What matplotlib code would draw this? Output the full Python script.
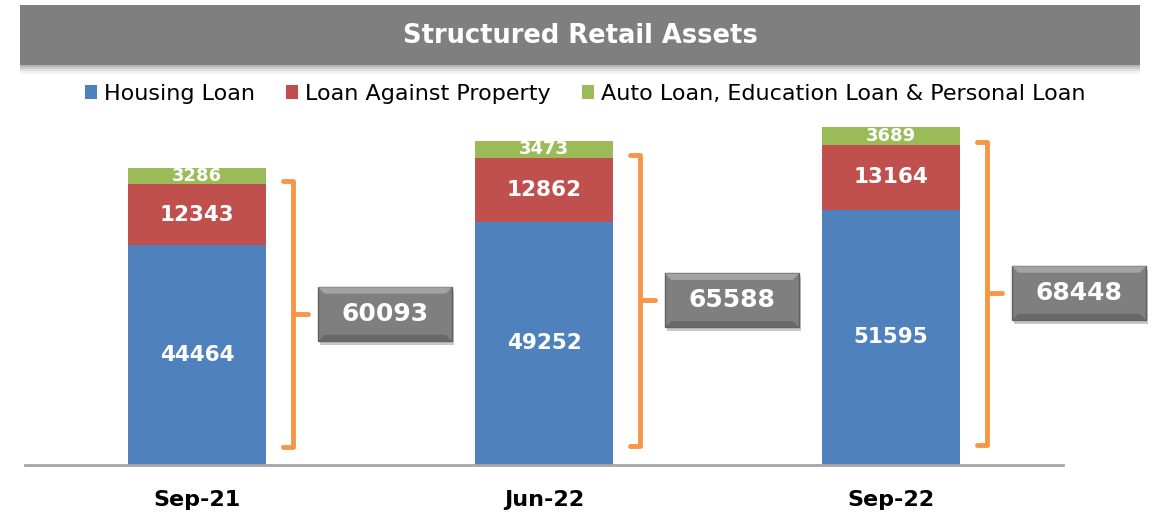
import matplotlib.pyplot as plt
from matplotlib.patches import Rectangle, Polygon
import numpy as np

# data
periods = ['Sep-21', 'Jun-22', 'Sep-22']
housing = [44464, 49252, 51595]
lap = [12343, 12862, 13164]
other = [3286, 3473, 3689]
totals = [60093, 65588, 68448]
series_names = ['Housing Loan', 'Loan Against Property',
                'Auto Loan, Education Loan & Personal Loan']

BLUE = '#4F81BD'
RED = '#C0504D'
GREEN = '#9BBB59'
ORANGE = '#F79646'
GREY = '#7F7F7F'

W, H = 1153, 523
fig = plt.figure(figsize=(W / 100, H / 100), dpi=100)

# background axes in pixel units for the banner
bg = fig.add_axes([0, 0, 1, 1])
bg.set_xlim(0, W)
bg.set_ylim(H, 0)
bg.axis('off')

# banner shadow, then banner
for k, a in enumerate([0.12, 0.09, 0.06, 0.04, 0.02]):
    bg.add_patch(Rectangle((20, 5), 1120, 62 + k * 2, color='black', alpha=a, lw=0))
bg.add_patch(Rectangle((20, 5), 1120, 60, color=GREY, lw=0))
bg.text(580, 36, 'Structured Retail Assets', color='white', fontsize=18.5,
        fontweight='bold', ha='center', va='center')

# bar axes
ax = fig.add_axes([25 / W, 58 / H, 1038 / W, 346 / H])
ax.patch.set_alpha(0)
x = np.arange(len(periods))
width = 0.398
b1 = ax.bar(x, housing, width, color=BLUE, label=series_names[0])
b2 = ax.bar(x, lap, width, bottom=housing, color=RED, label=series_names[1])
base3 = np.add(housing, lap)
b3 = ax.bar(x, other, width, bottom=base3, color=GREEN, label=series_names[2])

ax.set_xlim(-0.4957, 2.4957)
ax.set_ylim(0, 70000)
for s in ['top', 'left', 'right']:
    ax.spines[s].set_visible(False)
ax.spines['bottom'].set_color('#A6A6A6')
ax.spines['bottom'].set_linewidth(2)
ax.set_yticks([])
ax.set_xticks(x, periods)
ax.tick_params(axis='x', length=0, pad=18)
for lbl in ax.get_xticklabels():
    lbl.set_fontsize(16)
    lbl.set_fontweight('bold')

# segment labels
for i in range(len(periods)):
    ax.text(x[i], housing[i] / 2, str(housing[i]), color='white', fontsize=15.5,
            fontweight='bold', ha='center', va='center')
    ax.text(x[i], housing[i] + lap[i] / 2, str(lap[i]), color='white', fontsize=15.5,
            fontweight='bold', ha='center', va='center')
    ax.text(x[i], base3[i] + other[i] / 2, str(other[i]), color='white', fontsize=13,
            fontweight='bold', ha='center', va='center')

# braces and total boxes
for i in range(len(periods)):
    c = x[i]
    top = totals[i] * 0.955
    bot = totals[i] * 0.06
    mid = (top + bot) / 2
    hx, vx, nx = c + 0.248, c + 0.277, c + 0.32
    ax.plot([hx, vx, vx, nx], [top, top, mid, mid], color=ORANGE, lw=3.5,
            solid_joinstyle='round', solid_capstyle='round', clip_on=False)
    ax.plot([vx, vx, hx], [mid, bot, bot], color=ORANGE, lw=3.5,
            solid_joinstyle='round', solid_capstyle='round', clip_on=False)

    bx0, bw, bh = c + 0.349, 0.386, 10927
    by0 = mid - bh / 2
    ax.add_patch(Rectangle((bx0 + 0.006, by0 - 700), bw, bh, color='black',
                           alpha=0.22, lw=0, clip_on=False))
    ax.add_patch(Rectangle((bx0, by0), bw, bh, facecolor=GREY,
                           edgecolor='#606060', lw=1, clip_on=False))
    bvx, bvy = 0.018, 1300
    ax.add_patch(Polygon([(bx0, by0 + bh), (bx0 + bw, by0 + bh),
                          (bx0 + bw - bvx, by0 + bh - bvy), (bx0 + bvx, by0 + bh - bvy)],
                         closed=True, color='#A3A3A3', lw=0, clip_on=False))
    ax.add_patch(Polygon([(bx0, by0), (bx0 + bw, by0),
                          (bx0 + bw - bvx, by0 + bvy), (bx0 + bvx, by0 + bvy)],
                         closed=True, color='#686868', lw=0, clip_on=False))
    ax.text(bx0 + bw / 2, mid, str(totals[i]), color='white', fontsize=18,
            fontweight='bold', ha='center', va='center', clip_on=False)

fig.legend(handles=[b1, b2, b3], loc='center', bbox_to_anchor=(585 / W, 1 - 94 / H),
           ncol=3, frameon=False, fontsize=16, handlelength=0.55, handleheight=0.55,
           handletextpad=0.3, columnspacing=1.4)

plt.savefig('out.png', dpi=100)
